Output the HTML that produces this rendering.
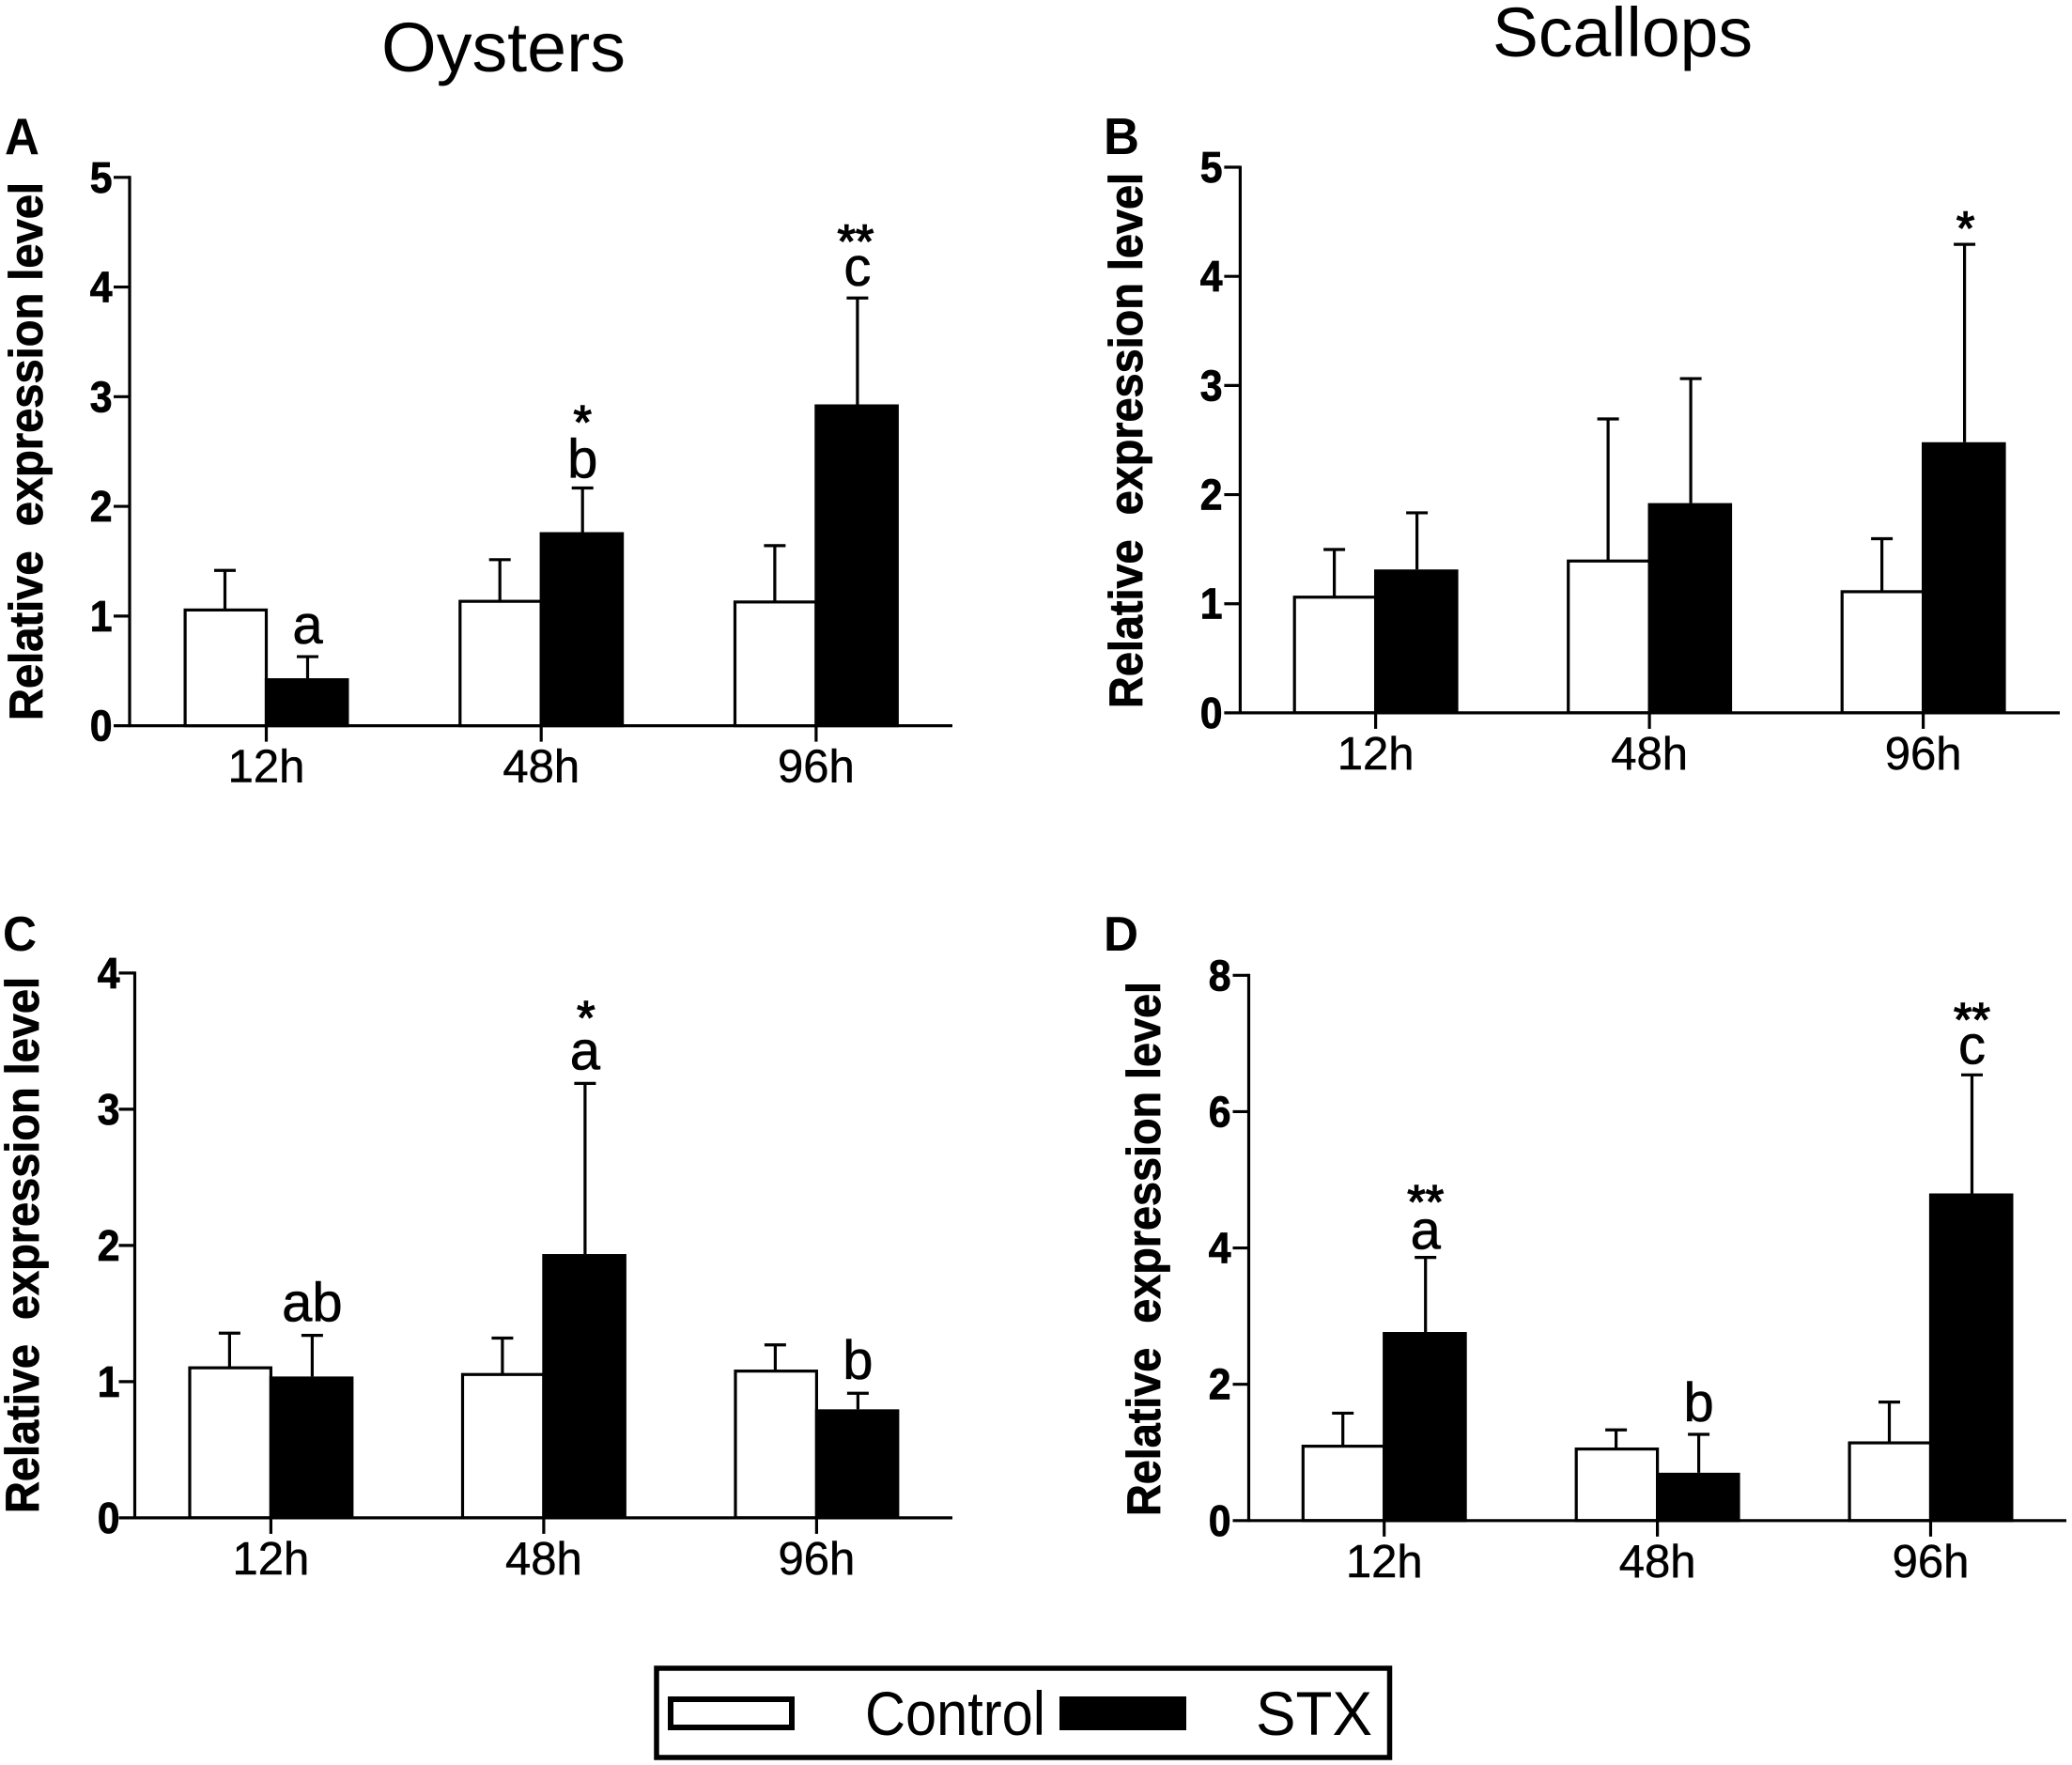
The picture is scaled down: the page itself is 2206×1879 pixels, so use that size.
<!DOCTYPE html>
<html lang="en">
<head>
<meta charset="utf-8">
<title>Relative expression level in oysters and scallops</title>
<style>
html,body{margin:0;padding:0;background:#fff;}
svg{display:block;font-family:"Liberation Sans",Arial,sans-serif;fill:#000;}
</style>
</head>
<body>
<svg id="figure" xmlns="http://www.w3.org/2000/svg" width="2206" height="1879" viewBox="0 0 2206 1879">
  <rect x="0" y="0" width="2206" height="1879" fill="#fff"/>
  <text x="406" y="76" font-size="74" textLength="260" lengthAdjust="spacingAndGlyphs">Oysters</text>
  <text x="1589" y="60" font-size="74" textLength="277" lengthAdjust="spacingAndGlyphs">Scallops</text>
  <text x="5" y="164" font-size="55" font-weight="700" textLength="37" lengthAdjust="spacingAndGlyphs">A</text>
  <text x="1175" y="164" font-size="55" font-weight="700" textLength="38" lengthAdjust="spacingAndGlyphs">B</text>
  <text x="3" y="1012" font-size="52" font-weight="700" textLength="36" lengthAdjust="spacingAndGlyphs">C</text>
  <text x="1175" y="1012" font-size="52" font-weight="700" textLength="37" lengthAdjust="spacingAndGlyphs">D</text>
  <g id="panels"></g>
  <g>
    <rect x="699" y="1776" width="780.5" height="95" fill="#fff" stroke="#000" stroke-width="5.5"/>
    <rect x="714" y="1809" width="129" height="30" fill="#fff" stroke="#000" stroke-width="6"/>
    <text x="921" y="1847" font-size="66" textLength="192" lengthAdjust="spacingAndGlyphs">Control</text>
    <rect x="1128" y="1806" width="135" height="36" fill="#000"/>
    <text x="1337" y="1847" font-size="66" textLength="124" lengthAdjust="spacingAndGlyphs">STX</text>
  </g>
</svg>
<script>
// ---- data ----
const categories = ['12h', '48h', '96h'];

const ticksA = [0, 1, 2, 3, 4, 5];
const controlA = [1.057, 1.136, 1.13];
const controlErrA = [1.416, 1.514, 1.642];
const stxA = [0.433, 1.765, 2.93];
const stxErrA = [0.63, 2.168, 3.90];
const notesA = [
  { cat: 0, letter: 'a', stars: '' },
  { cat: 1, letter: 'b', stars: '*' },
  { cat: 2, letter: 'c', stars: '**' }
];

const ticksB = [0, 1, 2, 3, 4, 5];
const controlB = [1.062, 1.393, 1.112];
const controlErrB = [1.497, 2.693, 1.596];
const stxB = [1.314, 1.922, 2.48];
const stxErrB = [1.833, 3.063, 4.293];
const notesB = [
  { cat: 2, letter: '', stars: '*' }
];

const ticksC = [0, 1, 2, 3, 4];
const controlC = [1.103, 1.054, 1.079];
const controlErrC = [1.356, 1.32, 1.27];
const stxC = [1.038, 1.937, 0.797];
const stxErrC = [1.34, 3.19, 0.915];
const notesC = [
  { cat: 0, letter: 'ab', stars: '' },
  { cat: 1, letter: 'a', stars: '*' },
  { cat: 2, letter: 'b', stars: '' }
];

const ticksD = [0, 2, 4, 6, 8];
const controlD = [1.094, 1.053, 1.143];
const controlErrD = [1.576, 1.331, 1.739];
const stxD = [2.767, 0.702, 4.8];
const stxErrD = [3.861, 1.265, 6.539];
const notesD = [
  { cat: 0, letter: 'a', stars: '**' },
  { cat: 1, letter: 'b', stars: '' },
  { cat: 2, letter: 'c', stars: '**' }
];

// ---- layout of each panel (annotation offsets are indexed like the panel's notes) ----
const panels = [
  { id: 'a', ticks: ticksA, control: controlA, controlErr: controlErrA, stx: stxA, stxErr: stxErrA, notes: notesA,
    left: 138, right: 1014, base: 772.6, top: 188.8, firstCat: 283.5, step: 292.7, titleX: 45, titleY: 767, titleLen: 573, labelRight: 119.5,
    letterGaps: [14, 11, 13], starGaps: [0, 53, 43], starDx: [0, 0, -2] },
  { id: 'b', ticks: ticksB, control: controlB, controlErr: controlErrB, stx: stxB, stxErr: stxErrB, notes: notesB,
    left: 1320.4, right: 2193, base: 758.9, top: 178, firstCat: 1464.6, step: 291.5, titleX: 1216, titleY: 754, titleLen: 570, labelRight: 1301.5,
    letterGaps: [14], starGaps: [0], starDx: [1] },
  { id: 'c', ticks: ticksC, control: controlC, controlErr: controlErrC, stx: stxC, stxErr: stxErrC, notes: notesC,
    left: 143.5, right: 1014, base: 1615.9, top: 1035.9, firstCat: 288.4, step: 290.5, titleX: 41, titleY: 1611, titleLen: 571, labelRight: 127.5,
    letterGaps: [15, 15, 15], starGaps: [0, 53, 0], starDx: [0, 1, 0] },
  { id: 'd', ticks: ticksD, control: controlD, controlErr: controlErrD, stx: stxD, stxErr: stxErrD, notes: notesD,
    left: 1329.5, right: 2200, base: 1618.8, top: 1038.3, firstCat: 1473.7, step: 290.9, titleX: 1235, titleY: 1614, titleLen: 569, labelRight: 1310.5,
    letterGaps: [9, 14, 12], starGaps: [42, 0, 42], starDx: [0, 0, 0] }
];

const BAR_W = 88;
const STROKE = 3.2;
const CAP_W = 23;
const NS = 'http://www.w3.org/2000/svg';
const root = document.getElementById('panels');

function mk(tag, attrs, parent, text) {
  const el = document.createElementNS(NS, tag);
  for (const k in attrs) el.setAttribute(k, attrs[k]);
  if (text !== undefined) el.textContent = text;
  parent.appendChild(el);
  return el;
}

panels.forEach(function (p) {
  const maxTick = p.ticks[p.ticks.length - 1];
  const yScale = function (v) { return p.base - (v / maxTick) * (p.base - p.top); };
  const xScale = function (i) { return p.firstCat + i * p.step; };

  const g = mk('g', {}, root);
  
  

  // bars and error bars
  categories.forEach(function (cat, i) {
    const cx = xScale(i);
    [
      { name: 'control', vals: p.control, errs: p.controlErr, x: cx - BAR_W + STROKE / 2, w: BAR_W - STROKE / 2, fill: '#fff', lineX: cx - BAR_W / 2, topInset: 0.2 },
      { name: 'stx', vals: p.stx, errs: p.stxErr, x: cx, w: BAR_W - STROKE / 2, fill: '#000', lineX: cx + BAR_W / 2, topInset: STROKE / 2 }
    ].forEach(function (s) {
      const yv = yScale(s.vals[i]);
      const ye = yScale(s.errs[i]);
      const stem = mk('line', { x1: s.lineX, x2: s.lineX, y1: yv, y2: ye, stroke: '#000', 'stroke-width': STROKE }, g);
      
      
      const cap = mk('line', { x1: s.lineX - CAP_W / 2, x2: s.lineX + CAP_W / 2, y1: ye, y2: ye, stroke: '#000', 'stroke-width': STROKE }, g);
      
      
      const bar = mk('rect', { x: s.x, y: yv + s.topInset, width: s.w, height: p.base - yv - s.topInset, fill: s.fill, stroke: '#000', 'stroke-width': STROKE }, g);
      
      
    });
  });

  // axes
  const yAxis = mk('line', { x1: p.left, x2: p.left, y1: p.top - 1.5, y2: p.base + 1.5, stroke: '#000', 'stroke-width': STROKE }, g);
  
  
  const xAxis = mk('line', { x1: p.left, x2: p.right, y1: p.base, y2: p.base, stroke: '#000', 'stroke-width': STROKE }, g);
  
  

  p.ticks.forEach(function (t) {
    const y = yScale(t);
    const tick = mk('line', { x1: p.left - 17, x2: p.left, y1: y, y2: y, stroke: '#000', 'stroke-width': STROKE }, g);
    
    
    const label = mk('text', { transform: 'translate(' + p.labelRight + ' ' + (y + 16) + ') scale(.93 1)', 'text-anchor': 'end', 'font-size': 46, 'font-weight': 700, stroke: '#000', 'stroke-width': 0.8 }, g, String(t));
    
    
  });

  categories.forEach(function (cat, i) {
    const x = xScale(i);
    const tick = mk('line', { x1: x, x2: x, y1: p.base, y2: p.base + 17, stroke: '#000', 'stroke-width': STROKE }, g);
    
    
    const label = mk('text', { x: x, y: p.base + 60, 'text-anchor': 'middle', 'font-size': 49, stroke: '#000', 'stroke-width': 0.5 }, g, cat);
    
    
  });

  // y-axis title
  const title = mk('text', {
    transform: 'translate(' + p.titleX + ' ' + p.titleY + ') rotate(-90)',
    'font-size': 50, 'font-weight': 700, stroke: '#000', 'stroke-width': 0.8, textLength: p.titleLen, lengthAdjust: 'spacingAndGlyphs'
  }, g, 'Relative\u00A0\u00A0expression level');
  
  

  // significance annotations above STX bars
  p.notes.forEach(function (n, k) {
    const x = xScale(n.cat) + BAR_W / 2;
    const yTop = yScale(p.stxErr[n.cat]);
    if (n.letter) {
      const t = mk('text', { x: x, y: yTop - p.letterGaps[k], 'text-anchor': 'middle', 'font-size': 58, stroke: '#000', 'stroke-width': 0.6 }, g, n.letter);
      
      
    }
    if (n.stars) {
      const s = mk('text', { x: x + p.starDx[k], y: yTop - p.starGaps[k], 'text-anchor': 'middle', 'font-size': 50, stroke: '#000', 'stroke-width': 1.4 }, g, n.stars);
      
      
    }
  });
});
</script>
</body>
</html>
